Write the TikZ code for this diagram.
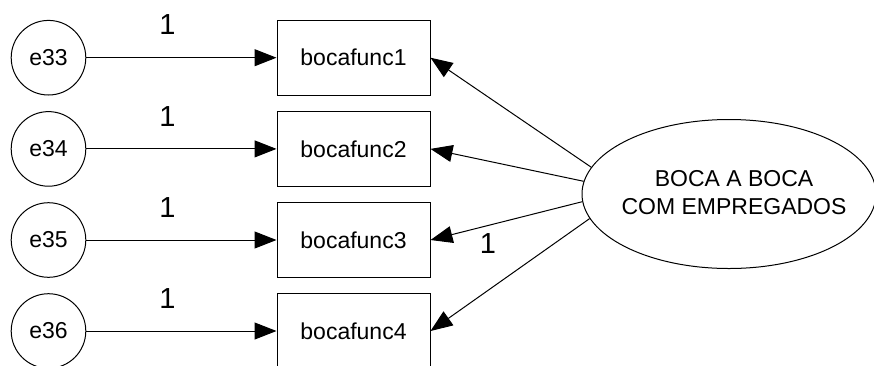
\documentclass[tikz,border=0pt]{standalone}
\usepackage{fontspec}
\setmainfont{Liberation Sans}
\usetikzlibrary{arrows.meta,shapes.geometric}
\tikzset{
  errvar/.style={draw, circle, line width=1pt, minimum size=74.6pt, inner sep=0pt, font=\fontsize{23}{27}\selectfont},
  obsvar/.style={draw, rectangle, line width=1pt, minimum width=153pt, minimum height=75pt, inner sep=0pt, font=\fontsize{23}{27}\selectfont},
  latvar/.style={draw, ellipse, line width=1pt, minimum width=294pt, minimum height=149pt, inner sep=0pt},
  lattext/.style={align=center, inner sep=0pt, font=\fontsize{23}{28}\selectfont},
  path/.style={line width=1pt, -{Triangle[length=22pt,width=17pt]}},
  weight/.style={font=\fontsize{29}{32}\selectfont, inner sep=0pt}
}
\begin{document}
\begin{tikzpicture}[x=1pt, y=-1pt]
  \useasboundingbox (0,0) rectangle (874,365);
  \clip (0,0) rectangle (874,365);

  % error terms
  \node[errvar] (e33) at (48.5,57.7) {e33};
  \node[errvar] (e34) at (48.5,148.9) {e34};
  \node[errvar] (e35) at (48.5,240) {e35};
  \node[errvar] (e36) at (48.5,331) {e36};

  % observed indicators
  \node[obsvar] (b1) at (353.5,57.7) {bocafunc1};
  \node[obsvar] (b2) at (353.5,148.9) {bocafunc2};
  \node[obsvar] (b3) at (353.5,240) {bocafunc3};
  \node[obsvar] (b4) at (353.5,331) {bocafunc4};

  % latent factor (outline and its two-line name)
  \node[latvar] (lat) at (729,194) {};
  \node[lattext] (latname) at (734,193) {BOCA A BOCA\\COM EMPREGADOS};

  % error paths
  \draw[path] (e33) -- (b1);
  \draw[path] (e34) -- (b2);
  \draw[path] (e35) -- (b3);
  \draw[path] (e36) -- (b4);

  % factor loadings
  \draw[path] (lat.169.5) -- (b1.east);
  \draw[path] (lat.175.7) -- (b2.east);
  \draw[path] (lat.183.5) -- (b3.east);
  \draw[path] (lat.190.4) -- (b4.east);

  % fixed weights
  \node[weight] (w1) at (167.5,25) {1};
  \node[weight] (w2) at (167.5,117) {1};
  \node[weight] (w3) at (167.5,208) {1};
  \node[weight] (w4) at (167.5,299) {1};
  \node[weight] (w5) at (488,243.5) {1};
\end{tikzpicture}
\end{document}
